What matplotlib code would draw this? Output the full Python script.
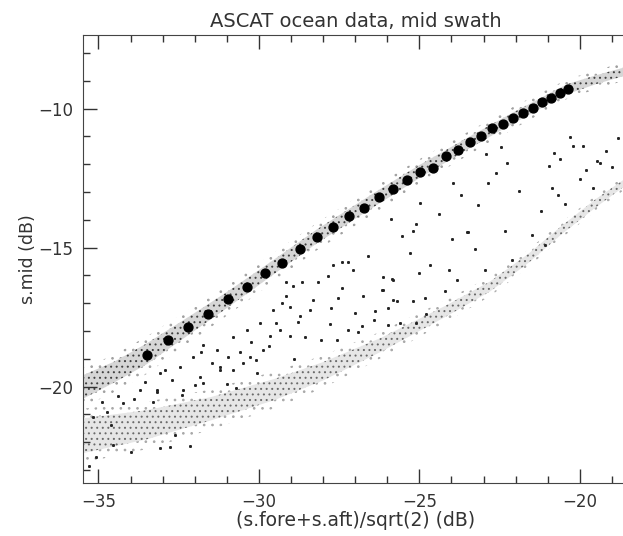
import numpy as np
import matplotlib
matplotlib.use('Agg')
import matplotlib.pyplot as plt

# binned means (large dots)
bin_x = [-33.48, -32.83, -32.20, -31.58, -30.96, -30.38, -29.81, -29.29, -28.72,
         -28.20, -27.70, -27.20, -26.72, -26.26, -25.82, -25.40, -24.97, -24.56,
         -24.17, -23.79, -23.43, -23.08, -22.73, -22.41, -22.08, -21.77, -21.46,
         -21.17, -20.89, -20.63, -20.37]
bin_y = [-18.86, -18.32, -17.86, -17.39, -16.86, -16.40, -15.92, -15.54, -15.05,
         -14.61, -14.26, -13.86, -13.56, -13.19, -12.90, -12.58, -12.27, -12.12,
         -11.71, -11.48, -11.20, -11.00, -10.71, -10.54, -10.34, -10.17, -9.97,
         -9.77, -9.61, -9.44, -9.31]

# dense upper cloud (around the binned means): core edges and outer fringe
up_x  = [-35.5, -34.5, -33.5, -32.2, -31.0, -29.8, -28.2, -26.3, -25.0, -23.4, -22.1, -20.4, -19.5, -18.5]
up_lo = [-20.45, -19.85, -19.20, -18.15, -17.18, -16.18, -14.85, -13.45, -12.50, -11.40, -10.55, -9.48, -9.12, -8.78]
up_hi = [-19.60, -19.10, -18.45, -17.50, -16.60, -15.65, -14.35, -12.95, -12.03, -10.98, -10.15, -9.12, -8.80, -8.48]
upf_lo = [-20.75, -20.20, -19.55, -18.45, -17.45, -16.45, -15.10, -13.70, -12.72, -11.62, -10.75, -9.65, -9.30, -8.95]
upf_hi = [-19.35, -18.85, -18.20, -17.25, -16.35, -15.40, -14.12, -12.72, -11.82, -10.78, -9.95, -8.95, -8.62, -8.30]

# dense lower cloud: core edges and outer fringe
lo_x  = [-35.5, -33.5, -31.5, -29.5, -28.0, -26.2, -24.2, -22.8, -21.6, -20.6, -19.5, -18.5]
lo_lo = [-22.40, -21.90, -21.22, -20.48, -19.78, -18.75, -17.50, -16.58, -15.55, -14.55, -13.55, -12.70]
lo_hi = [-21.15, -20.85, -20.38, -19.72, -19.12, -18.25, -17.10, -16.22, -15.22, -14.25, -13.25, -12.45]
lof_lo = [-22.75, -22.25, -21.55, -20.78, -20.05, -18.98, -17.70, -16.75, -15.70, -14.68, -13.68, -12.82]
lof_hi = [-20.80, -20.55, -20.10, -19.45, -18.88, -18.02, -16.90, -16.05, -15.07, -14.12, -13.12, -12.32]

# sparse points between and around the two clouds
pts_x = [-27.68, -27.42, -27.22, -27.84, -27.06, -28.15, -28.67, -29.14, -29.29, -29.03,
         -28.41, -27.74, -27.53, -26.75, -26.13, -25.82, -26.15, -25.71, -25.97, -26.39,
         -27.01, -28.78, -29.47, -28.72, -27.79, -27.22, -26.80, -29.03, -29.66, -28.57,
         -28.05, -27.58, -30.59, -30.28, -31.79, -31.21, -30.80, -32.46, -32.93, -30.07,
         -33.19, -32.36, -31.74, -32.77, -32.15, -22.91, -22.28, -20.62, -20.00, -19.38,
         -23.95, -22.86, -24.98, -23.17, -20.88, -20.47, -25.87, -25.19, -23.48, -22.34,
         -21.50, -25.55, -23.99, -23.27, -24.67, -24.07, -22.96, -25.00, -25.84, -23.84,
         -26.13, -25.82, -25.19, -24.83, -25.97, -25.61, -25.09, -22.46, -20.96, -20.68,
         -20.21, -19.90, -20.31, -19.17, -19.48, -23.53, -25.09, -35.16, -34.74, -34.23,
         -33.71, -33.19, -33.08, -32.05, -31.74, -31.32, -30.80, -30.38, -29.97, -29.55,
         -29.14, -28.93, -29.35, -29.87, -30.49, -31.21, -31.84, -34.54, -33.08, -35.06,
         -34.90, -34.40, -33.90, -33.55, -32.70, -32.00, -31.45, -30.95, -30.25, -29.70,
         -34.60, -33.30, -32.40, -31.00, -30.10, -28.30, -27.40, -26.60, -25.30, -24.40,
         -23.70, -22.60, -21.90, -21.20, -20.80, -19.80, -19.00, -18.80, -24.80, -26.90,
         -28.90, -30.70, -32.60, -34.00, -35.30, -26.40, -24.20, -22.10, -21.10, -19.60]
pts_y = [-15.61, -15.52, -15.52, -16.03, -15.79, -16.25, -16.25, -16.25, -17.00, -17.12,
         -17.23, -17.17, -16.83, -16.75, -16.07, -16.15, -16.51, -16.93, -17.17, -17.29,
         -17.35, -17.69, -17.71, -17.47, -17.74, -17.95, -17.81, -18.17, -18.17, -18.22,
         -18.31, -18.31, -18.74, -18.92, -18.74, -19.28, -19.40, -19.28, -19.40, -19.52,
         -20.18, -20.12, -19.88, -22.17, -22.14, -11.64, -11.94, -11.82, -12.54, -11.94,
         -12.66, -12.66, -13.38, -13.48, -12.84, -13.44, -13.98, -14.42, -14.44, -14.40,
         -14.56, -14.58, -14.70, -15.04, -15.61, -15.79, -15.79, -15.93, -16.12, -16.17,
         -16.51, -16.87, -16.93, -16.81, -17.77, -17.71, -17.71, -11.39, -12.06, -13.12,
         -11.34, -11.34, -11.03, -11.52, -11.88, -14.44, -14.16, -21.08, -20.90, -20.60,
         -20.12, -20.12, -19.52, -18.92, -18.49, -18.68, -18.20, -17.95, -17.71, -17.23,
         -16.75, -16.39, -17.95, -18.68, -19.16, -19.40, -19.64, -22.11, -22.22, -22.53,
         -20.55, -20.35, -20.45, -19.85, -19.75, -19.95, -19.15, -18.95, -18.40, -18.55,
         -21.40, -20.55, -20.30, -19.90, -19.05, -16.90, -16.45, -15.30, -15.20, -13.80,
         -13.10, -12.30, -12.95, -13.70, -11.60, -12.20, -12.10, -11.05, -17.40, -18.05,
         -19.00, -20.05, -21.75, -22.35, -22.85, -17.60, -16.55, -15.45, -14.90, -12.85]

plt.rcParams['font.family'] = 'DejaVu Sans'
plt.rcParams['hatch.linewidth'] = 0.7

fig = plt.figure(figsize=(6.23, 5.36), dpi=100)
ax = fig.add_axes([83/623, 53/536, 545/623, 448/536])

# clouds: sparse stipple for the fringe, pale core with denser stipple
ax.fill_between(up_x, upf_lo, upf_hi, facecolor='none', edgecolor='#a0a0a0', hatch='..', linewidth=0)
ax.fill_between(lo_x, lof_lo, lof_hi, facecolor='none', edgecolor='#a8a8a8', hatch='..', linewidth=0)
ax.fill_between(up_x, up_lo, up_hi, facecolor='#d6d6d6', edgecolor='#404040', hatch='...', linewidth=0)
ax.fill_between(lo_x, lo_lo, lo_hi, facecolor='#e6e6e6', edgecolor='#6a6a6a', hatch='...', linewidth=0)
ax.plot(pts_x, pts_y, linestyle='none', marker='s', markersize=1.1, color='#222222')
ax.plot(bin_x, bin_y, linestyle='none', marker='o', markersize=6.4, color='black')

ax.set_xlim(-35.48, -18.50)
ax.set_ylim(-23.47, -7.35)
ax.set_xticks([-35, -30, -25, -20])
ax.set_xticks(np.arange(-35, -18), minor=True)
ax.set_yticks([-20, -15, -10])
ax.set_yticks(np.arange(-23, -7), minor=True)
ax.tick_params(which='both', direction='in', top=True, right=False, color='#333333',
               labelsize=12, labelcolor='#333333')
ax.tick_params(which='major', length=10, width=1, pad=7)
ax.tick_params(which='minor', length=5, width=1)
for side in ['left', 'bottom', 'top']:
    ax.spines[side].set_color('#444444')
ax.spines['right'].set_visible(False)

ax.set_title('ASCAT ocean data, mid swath', fontsize=14, color='#333333', pad=6)
ax.set_xlabel('(s.fore+s.aft)/sqrt(2) (dB)', fontsize=13.5, color='#333333', labelpad=0)
ax.set_ylabel('s.mid (dB)', fontsize=12.5, color='#333333', labelpad=1)

fig.savefig('out.png', dpi=100)
